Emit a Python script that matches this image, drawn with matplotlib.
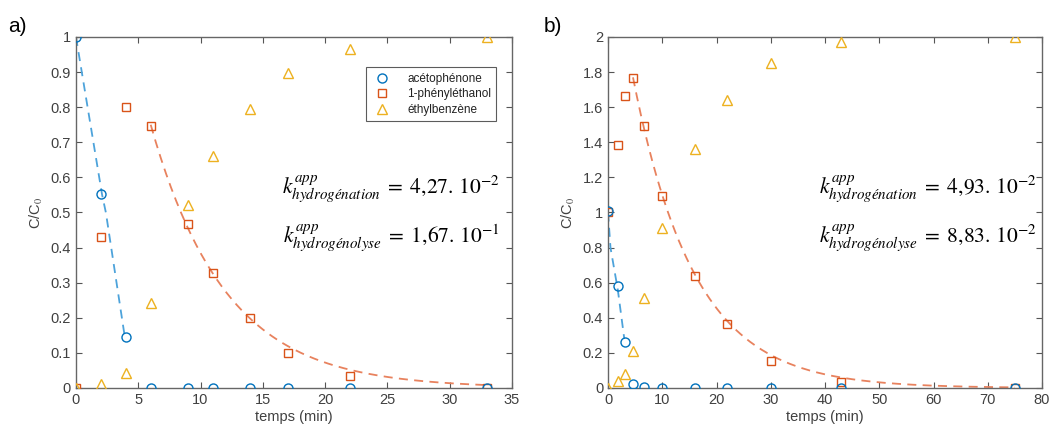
import numpy as np
import matplotlib
matplotlib.use("Agg")
import matplotlib.pyplot as plt
from matplotlib.ticker import FormatStrFormatter, MultipleLocator

# ---- data ----
temps_a = [0, 2, 4, 6, 9, 11, 14, 17, 22, 33]
aceto_a = [1.0, 0.552, 0.144, 0.0, 0.0, 0.0, 0.0, 0.0, 0.0, 0.0]
phenyl_a = [0.0, 0.43, 0.80, 0.745, 0.467, 0.327, 0.20, 0.10, 0.033, 0.0]
ethyl_a = [0.0, 0.01, 0.043, 0.242, 0.521, 0.66, 0.794, 0.898, 0.966, 1.0]

temps_b = [0, 1.8, 3.1, 4.6, 6.6, 10, 16, 22, 30, 43, 75]
aceto_b = [1.01, 0.58, 0.26, 0.02, 0.005, 0.0, 0.0, 0.0, 0.0, 0.0, 0.0]
phenyl_b = [1.0, 1.383, 1.663, 1.768, 1.49, 1.094, 0.637, 0.363, 0.154, 0.034, 0.0]
ethyl_b = [0.0, 0.04, 0.08, 0.21, 0.51, 0.91, 1.36, 1.64, 1.85, 1.97, 2.0]

# dashed fit of acetophenone
fit_aceto_a_t = [0, 2.1, 2.4, 3.9]
fit_aceto_a_y = [1.0, 0.55, 0.5, 0.15]
fit_aceto_b_t = [0, 0.45, 1.8, 2.4, 3.0]
fit_aceto_b_y = [1.0, 0.80, 0.56, 0.42, 0.28]

# first-order fit of 1-phényléthanol: start point, end time, rate constant
fit_phenyl_a = (6.0, 0.75, 33.0, 0.167)
fit_phenyl_b = (4.6, 1.77, 75.0, 0.0883)

k_labels_a = [r"4{,}27.\,10^{-2}", r"1{,}67.\,10^{-1}"]
k_labels_b = [r"4{,}93.\,10^{-2}", r"8{,}83.\,10^{-2}"]
legend_labels = ["acétophénone", "1-phényléthanol", "éthylbenzène"]

BLUE = "#0072BD"
ORANGE = "#D95319"
YELLOW = "#EDB120"
GREY = "#404040"

plt.rcParams["font.family"] = ["Liberation Sans", "DejaVu Sans"]
plt.rcParams["mathtext.fontset"] = "stix"


def decay(params):
    t0, c0, t1, k = params
    t = np.linspace(t0, t1, 200)
    return t, c0 * np.exp(-k * (t - t0))


def draw_panel(ax, t, aceto, phenyl, ethyl, fit_t, fit_y, fit_ph, klabels,
               xmax, xstep, ymax, ystep, kx, legend=False):
    ax.plot(fit_t, fit_y, ls=(0, (5, 3.5)), color="#4DA3DB", lw=1.3)
    ft, fy = decay(fit_ph)
    ax.plot(ft, fy, ls=(0, (5, 3.5)), color="#E8825E", lw=1.3)
    ax.plot(t, aceto, "o", mfc="none", mec=BLUE, ms=6.5, mew=1.0,
            label=legend_labels[0], zorder=4)
    ax.plot(t, phenyl, "s", mfc="none", mec=ORANGE, ms=5.5, mew=1.0,
            label=legend_labels[1], zorder=3)
    ax.plot(t, ethyl, "^", mfc="none", mec=YELLOW, ms=7.5, mew=1.0,
            label=legend_labels[2], zorder=3)

    ax.set_xlim(0, xmax)
    ax.set_ylim(0, ymax)
    ax.xaxis.set_major_locator(MultipleLocator(xstep))
    ax.yaxis.set_major_locator(MultipleLocator(ystep))
    ax.yaxis.set_major_formatter(FormatStrFormatter("%g"))
    ax.tick_params(direction="in", top=True, right=True, length=4, width=0.8,
                   colors="#555555", labelcolor=GREY, labelsize=10.5)
    for s in ax.spines.values():
        s.set_color("#666666")
        s.set_linewidth(1.0)
    ax.set_xlabel("temps (min)", color=GREY, fontsize=10.5, labelpad=2)
    ax.set_ylabel("C/C$_0$", color=GREY, fontsize=10.5, labelpad=4)

    ax.text(kx, 0.556, r"$k_{hydrogénation}^{app}\;=\;" + klabels[0] + "$",
            transform=ax.transAxes, ha="right", va="baseline", fontsize=15.5)
    ax.text(kx, 0.416, r"$k_{hydrogénolyse}^{app}\;=\;" + klabels[1] + "$",
            transform=ax.transAxes, ha="right", va="baseline", fontsize=15.5)

    if legend:
        leg = ax.legend(loc="upper right", bbox_to_anchor=(0.978, 0.93), fontsize=8.5,
                        frameon=True, fancybox=False, edgecolor="#333333",
                        handletextpad=1.2, borderpad=0.45, labelspacing=0.3,
                        handlelength=1.8)
        leg.get_frame().set_linewidth(0.8)
        for txt in leg.get_texts():
            txt.set_color("#222222")


fig = plt.figure(figsize=(10.58, 4.29), dpi=100)
ax1 = fig.add_axes([0.0718, 0.0956, 0.4121, 0.8182])
ax2 = fig.add_axes([0.5747, 0.0956, 0.4102, 0.8182])

draw_panel(ax1, temps_a, aceto_a, phenyl_a, ethyl_a, fit_aceto_a_t, fit_aceto_a_y,
           fit_phenyl_a, k_labels_a, 35, 5, 1.0, 0.1, 0.972, legend=True)
draw_panel(ax2, temps_b, aceto_b, phenyl_b, ethyl_b, fit_aceto_b_t, fit_aceto_b_y,
           fit_phenyl_b, k_labels_b, 80, 10, 2.0, 0.2, 0.988)

fig.text(0.008, 0.925, "a)", fontsize=15, color="black")
fig.text(0.514, 0.925, "b)", fontsize=15, color="black")

fig.savefig("out.png", dpi=100)
